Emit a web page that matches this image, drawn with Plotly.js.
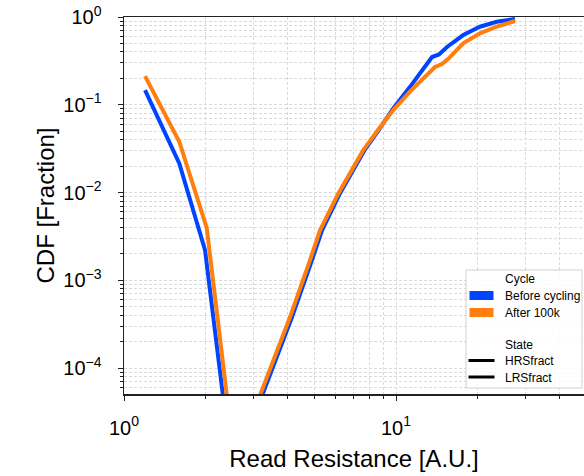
<!DOCTYPE html>
<html>
<head>
<meta charset="utf-8">
<script src="https://cdn.plot.ly/plotly-3.0.1.min.js"></script>
<style>html,body{margin:0;padding:0;background:#fff;}#chart{width:584px;height:476px;}</style>
</head>
<body>
<div id="chart"></div>
<script>
// ---- data ----
const beforeHrsX = [1.195, 1.597, 1.986, 2.46];
const beforeHrsY = [0.147, 0.0215, 0.0022, 1e-5];
const afterHrsX  = [1.195, 1.597, 2.014, 2.54];
const afterHrsY  = [0.212, 0.0379, 0.00398, 1e-5];

const beforeLrsX = [2.65, 3.60, 4.15, 4.91, 5.35, 6.22, 7.66, 8.55, 9.77, 11.26, 12.97, 13.57, 14.39, 15.40, 17.67, 20.35, 23.45, 27.39];
const beforeLrsY = [1e-5, 1.23e-4, 3.83e-4, 1.70e-3, 3.73e-3, 9.77e-3, 0.0304, 0.0492, 0.091, 0.160, 0.284, 0.350, 0.374, 0.455, 0.623, 0.775, 0.883, 0.948];
const afterLrsX  = [2.60, 3.54, 4.08, 4.83, 5.26, 6.14, 7.58, 8.49, 9.77, 11.26, 12.97, 13.91, 14.76, 15.53, 17.67, 20.35, 23.45, 27.39];
const afterLrsY  = [1e-5, 1.23e-4, 3.83e-4, 1.70e-3, 3.73e-3, 9.77e-3, 0.0304, 0.0492, 0.087, 0.141, 0.218, 0.269, 0.291, 0.332, 0.501, 0.652, 0.775, 0.90];

const xTickVals = [1, 10];
const xTickText = ['10<sup>0</sup>', '10<sup>1</sup>'];
const yTickVals = [1e-4, 1e-3, 1e-2, 1e-1, 1];
const yTickText = ['10<sup>−4</sup>', '10<sup>−3</sup>', '10<sup>−2</sup>', '10<sup>−1</sup>', '10<sup>0</sup>'];

const cycleNames = ['Before cycling', 'After 100k'];
const stateNames = ['HRSfract', 'LRSfract'];

// ---- styles ----
const BLUE = '#0044ff';
const ORANGE = '#ff7f0e';
const FONT = 'Liberation Sans, Arial, Helvetica, sans-serif';
const GRID = '#dadada';
const DASH = '3px,2px';

function minorTicks(lo, hi) {
  const out = [];
  for (let e = lo; e <= hi; e++) {
    for (let m = 2; m <= 9; m++) out.push(m * Math.pow(10, e));
  }
  return out;
}

const traces = [
  {x: beforeHrsX, y: beforeHrsY, mode: 'lines', line: {color: BLUE, width: 4}, name: cycleNames[0] + ' ' + stateNames[0]},
  {x: beforeLrsX, y: beforeLrsY, mode: 'lines', line: {color: BLUE, width: 4}, name: cycleNames[0] + ' ' + stateNames[1]},
  {x: afterHrsX, y: afterHrsY, mode: 'lines', line: {color: ORANGE, width: 4}, name: cycleNames[1] + ' ' + stateNames[0]},
  {x: afterLrsX, y: afterLrsY, mode: 'lines', line: {color: ORANGE, width: 4}, name: cycleNames[1] + ' ' + stateNames[1]}
];

// plot area in pixels: left 124, right 584, top 17, bottom 394
const PL = 124, PR = 584, PT = 17, PB = 394;
const px = v => (v - PL) / (PR - PL);
const py = v => (PB - v) / (PB - PT);

const shapes = [
  {type: 'rect', xref: 'paper', yref: 'paper', x0: px(466), x1: px(582), y0: py(388), y1: py(270),
   fillcolor: 'rgba(255,255,255,0.85)', line: {color: '#d0d0d0', width: 1}},
  {type: 'rect', xref: 'paper', yref: 'paper', x0: px(469.5), x1: px(493.5), y0: py(300), y1: py(291),
   fillcolor: BLUE, line: {width: 0}},
  {type: 'rect', xref: 'paper', yref: 'paper', x0: px(469.5), x1: px(493.5), y0: py(317), y1: py(308),
   fillcolor: ORANGE, line: {width: 0}},
  {type: 'line', xref: 'paper', yref: 'paper', x0: px(468.5), x1: px(494.5), y0: py(360.5), y1: py(360.5),
   line: {color: '#000', width: 3}},
  {type: 'line', xref: 'paper', yref: 'paper', x0: px(468.5), x1: px(494.5), y0: py(377), y1: py(377),
   line: {color: '#000', width: 3}}
];

function legText(t, y) {
  return {text: t, xref: 'paper', yref: 'paper', x: px(503), y: py(y), xanchor: 'left', yanchor: 'middle',
          showarrow: false, font: {family: FONT, size: 12, color: '#000'}};
}
const annotations = [
  legText('Cycle', 279),
  legText(cycleNames[0], 295.5),
  legText(cycleNames[1], 312.5),
  legText('State', 345),
  legText(stateNames[0], 361),
  legText(stateNames[1], 377.5)
];

const layout = {
  width: 584, height: 476,
  margin: {l: PL, r: 584 - PR, t: PT, b: 476 - PB, pad: 0},
  paper_bgcolor: '#fff', plot_bgcolor: '#fff',
  showlegend: false,
  font: {family: FONT, color: '#000'},
  xaxis: {
    type: 'log', range: [0, (PR - PL) / 272], autorange: false,
    tickmode: 'array', tickvals: xTickVals, ticktext: xTickText,
    ticks: 'outside', ticklen: 5, tickwidth: 1, tickcolor: '#222',
    tickfont: {family: FONT, size: 20, color: '#000'},
    ticklabelstandoff: 10,
    showline: true, linecolor: '#222', linewidth: 1.5, mirror: true,
    showgrid: true, gridcolor: GRID, gridwidth: 1, griddash: DASH,
    zeroline: false,
    minor: {tickmode: 'array', tickvals: minorTicks(0, 1), ticks: 'outside', ticklen: 3, tickwidth: 1, tickcolor: '#222',
            showgrid: true, gridcolor: GRID, gridwidth: 1, griddash: DASH},
    title: {text: 'Read Resistance [A.U.]', font: {family: FONT, size: 24, color: '#000'}, standoff: 12}
  },
  yaxis: {
    type: 'log', range: [-4.296, 0], autorange: false,
    tickmode: 'array', tickvals: yTickVals, ticktext: yTickText,
    ticks: 'outside', ticklen: 5, tickwidth: 1, tickcolor: '#222',
    tickfont: {family: FONT, size: 20, color: '#000'},
    ticklabelstandoff: 12,
    showline: true, linecolor: '#222', linewidth: 1.5, mirror: false,
    showgrid: true, gridcolor: GRID, gridwidth: 1, griddash: DASH,
    zeroline: false,
    minor: {tickmode: 'array', tickvals: minorTicks(-5, -1), ticks: 'outside', ticklen: 3, tickwidth: 1, tickcolor: '#222',
            showgrid: true, gridcolor: GRID, gridwidth: 1, griddash: DASH},
    title: {text: 'CDF [Fraction]', font: {family: FONT, size: 24, color: '#000'}, standoff: 2}
  },
  shapes: shapes,
  annotations: annotations
};

Plotly.newPlot('chart', traces, layout, {staticPlot: true, displayModeBar: false});
</script>
</body>
</html>
